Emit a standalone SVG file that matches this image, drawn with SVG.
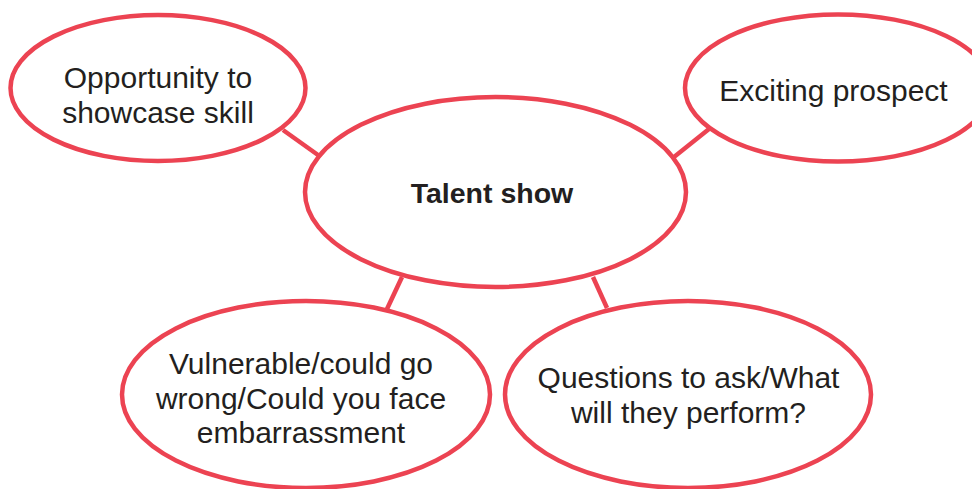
<svg xmlns="http://www.w3.org/2000/svg" width="972" height="489" viewBox="0 0 972 489">
  <style>
    .bubble { fill: #ffffff; stroke: #EC4352; stroke-width: 4.5; }
    .link { stroke: #EC4352; stroke-width: 4.5; stroke-linecap: butt; fill: none; }
    .label { font-family: "Liberation Sans", Arial, Helvetica, sans-serif; font-size: 30px; fill: #231F20; text-anchor: middle; }
    .title { font-weight: bold; font-size: 28.5px; }
  </style>
  <rect width="972" height="489" fill="#ffffff"/>

  <!-- spokes from the central topic to each idea -->
  <g id="connectors">
    <line class="link" x1="283" y1="130" x2="318" y2="155"/>
    <line class="link" x1="709" y1="129" x2="674" y2="157"/>
    <line class="link" x1="402" y1="277" x2="387" y2="309"/>
    <line class="link" x1="593" y1="277" x2="607" y2="308"/>
  </g>

  <g id="node-opportunity">
    <ellipse class="bubble" cx="158" cy="88" rx="147.5" ry="73"/>
    <text class="label" x="158" y="88">Opportunity to</text>
    <text class="label" x="158" y="123">showcase skill</text>
  </g>

  <g id="node-exciting">
    <ellipse class="bubble" cx="838" cy="88" rx="153" ry="73.5"/>
    <text class="label" x="833.5" y="101">Exciting prospect</text>
  </g>

  <g id="node-talent-show">
    <ellipse class="bubble" cx="495.5" cy="192" rx="190.5" ry="95"/>
    <text class="label title" x="492" y="203">Talent show</text>
  </g>

  <g id="node-vulnerable">
    <ellipse class="bubble" cx="306" cy="394.5" rx="184" ry="93.5"/>
    <text class="label" x="301" y="374">Vulnerable/could go</text>
    <text class="label" x="301" y="408.5">wrong/Could you face</text>
    <text class="label" x="301" y="443">embarrassment</text>
  </g>

  <g id="node-questions">
    <ellipse class="bubble" cx="688" cy="394.5" rx="183" ry="93.5"/>
    <text class="label" x="688.5" y="388">Questions to ask/What</text>
    <text class="label" x="688.5" y="423">will they perform?</text>
  </g>
</svg>
